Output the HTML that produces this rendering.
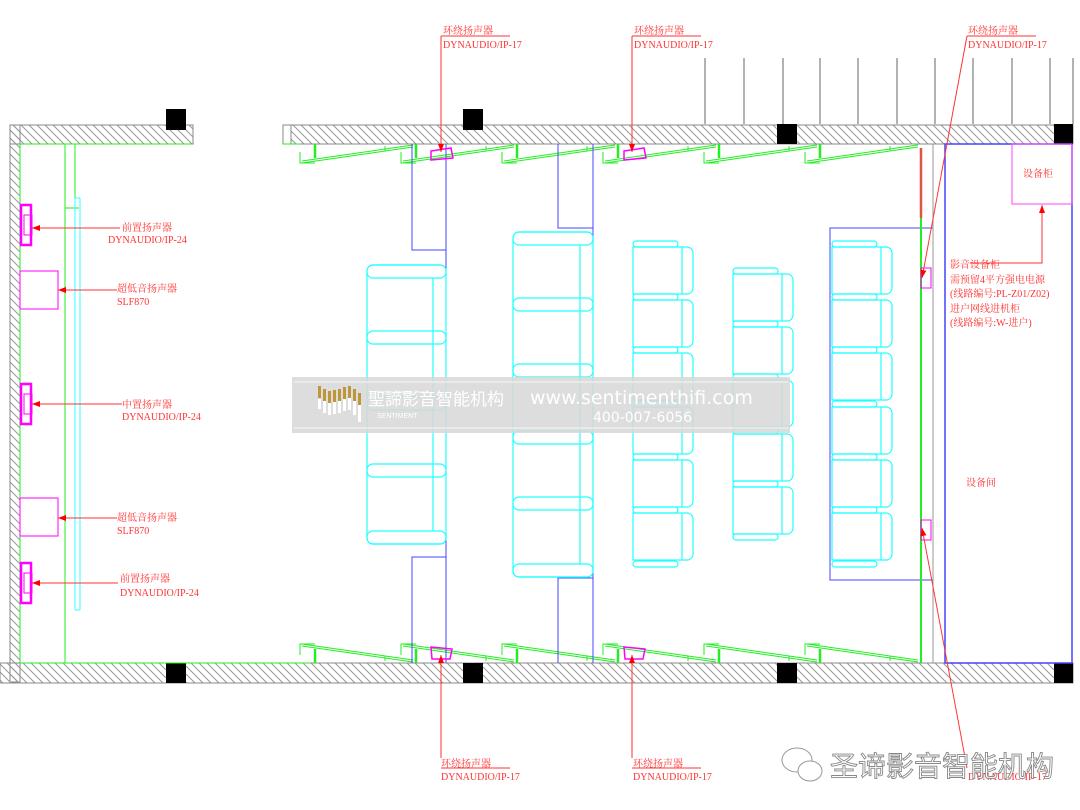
<!DOCTYPE html>
<html><head><meta charset="utf-8"><style>
html,body{margin:0;padding:0;background:#fff;}
svg{display:block}
.r{fill:#f33;font-family:"Liberation Serif","Noto Serif CJK SC",serif;font-size:10px}
</style></head><body>
<svg width="1080" height="810" viewBox="0 0 1080 810" xmlns="http://www.w3.org/2000/svg">
<defs>
<pattern id="h" patternUnits="userSpaceOnUse" width="8" height="8">
<path d="M-2,-2 L10,10 M-2,6 L2,10 M6,-2 L10,2" stroke="#999" stroke-width="1"/>
</pattern>
<marker id="a" markerWidth="8" markerHeight="6" refX="8" refY="3" orient="auto" markerUnits="userSpaceOnUse"><path d="M0,0 L8,3 L0,6z" fill="#f00"/></marker>
<g id="step" fill="none" stroke="#2e2" stroke-width="1">
<path d="M2,152 v11 h15"/><path d="M17,144 v14" stroke-width="2.5"/>
<path d="M4,161 L115,145 M4,163 L115,147"/><path d="M87,146 v5"/>
</g>
<g id="seat" fill="none" stroke="#2ff" stroke-width="1.2">
<rect x="0" y="0" width="45" height="6" rx="3"/>
<rect x="0" y="6" width="49" height="47"/>
<path d="M49,6 h5 a6,6 0 0 1 6,6 v35 a6,6 0 0 1 -6,6 h-5"/>
</g>
<g id="arm"><rect x="0" y="0" width="45" height="6" rx="3" fill="none" stroke="#2ff" stroke-width="1.2"/></g>
</defs>

<!-- grid lines above top right -->
<g stroke="#666" stroke-width="1">
<path d="M705,58 V124 M744,58 V124 M783,58 V124 M820,58 V124 M858,58 V124 M897,58 V124 M935,58 V124 M973,58 V124 M1012,58 V124 M1050,58 V124 M1073,58 V124"/>
</g>

<!-- walls -->
<rect x="10" y="125" width="183" height="19" fill="url(#h)" stroke="#888"/>
<rect x="10" y="125" width="10" height="557" fill="url(#h)" stroke="#888"/>
<rect x="283" y="125" width="790" height="19" fill="url(#h)" stroke="#888"/>
<rect x="283" y="125" width="8" height="19" fill="#fff" stroke="#888"/>
<rect x="0" y="663" width="1073" height="20" fill="url(#h)" stroke="#888"/>
<rect x="10" y="663" width="10" height="20" fill="url(#h)" stroke="none"/>
<g fill="#000">
<rect x="166" y="109" width="20" height="21"/><rect x="463" y="109" width="20" height="21"/>
<rect x="777" y="124" width="20" height="20"/><rect x="1054" y="124" width="19" height="20"/>
<rect x="166" y="663" width="20" height="20"/><rect x="463" y="663" width="20" height="20"/>
<rect x="777" y="663" width="20" height="20"/><rect x="1054" y="663" width="19" height="20"/>
</g>

<!-- left room green -->
<g fill="none" stroke="#2e2" stroke-width="1">
<path d="M20,144 H194 M20,663 H310 M20,144 V663"/>
<path d="M65,144 V663 M75,144 V208 M65,208 H79"/>
<path d="M283,144 H300"/>
</g>
<path d="M75,198 V610 M80,198 V610 M75,198 H80 M75,610 H80" stroke="#3ff" fill="none"/>

<!-- steps -->
<use href="#step" x="298"/><use href="#step" x="399"/><use href="#step" x="500"/>
<use href="#step" x="601"/><use href="#step" x="702"/><use href="#step" x="803"/>
<g transform="translate(0,807) scale(1,-1)">
<use href="#step" x="298"/><use href="#step" x="399"/><use href="#step" x="500"/>
<use href="#step" x="601"/><use href="#step" x="702"/><use href="#step" x="803"/>
</g>

<!-- blue partitions -->
<g fill="none" stroke="#44f" stroke-width="1">
<path d="M446,144 V663 M593,144 V663"/>
<path d="M446,250 H412 V144 M446,557 H412 V663"/>
<path d="M593,228 H558 V144 M593,578 H558 V663"/>
<rect x="830" y="228" width="103" height="352"/>
<rect x="945" y="144" width="127" height="519" stroke-width="1.5"/>
</g>
<path d="M933,144 V663" stroke="#999"/>
<path d="M921,148 V218" stroke="#d54" stroke-width="2.5"/>
<path d="M921,218 V663" stroke="#2e2" stroke-width="2"/>
<rect x="1012" y="144" width="60" height="60" fill="none" stroke="#f4f"/>

<!-- sofa row 1 -->
<g fill="none" stroke="#2ff" stroke-width="1.2">
<rect x="367" y="265" width="79" height="279" rx="6"/>
<rect x="367" y="265" width="79" height="13" rx="6"/><rect x="367" y="331" width="79" height="13" rx="6"/>
<rect x="367" y="397" width="79" height="13" rx="6"/><rect x="367" y="464" width="79" height="13" rx="6"/>
<rect x="367" y="531" width="79" height="13" rx="6"/>
<path d="M433,278 V531"/>
<rect x="513" y="232" width="80" height="345" rx="6"/>
<rect x="513" y="232" width="80" height="13" rx="6"/><rect x="513" y="298" width="80" height="13" rx="6"/>
<rect x="513" y="364" width="80" height="13" rx="6"/><rect x="513" y="431" width="80" height="13" rx="6"/>
<rect x="513" y="497" width="80" height="13" rx="6"/><rect x="513" y="564" width="80" height="13" rx="6"/>
<path d="M580,245 V564"/>
</g>
<!-- seats rows 3-5 -->
<g>
<use href="#seat" x="633" y="241"/><use href="#seat" x="633" y="294"/><use href="#seat" x="633" y="347"/>
<use href="#seat" x="633" y="401"/><use href="#seat" x="633" y="454"/><use href="#seat" x="633" y="507"/><use href="#arm" x="633" y="561"/>
<use href="#seat" x="733" y="268"/><use href="#seat" x="733" y="321"/><use href="#seat" x="733" y="374"/>
<use href="#seat" x="733" y="428"/><use href="#seat" x="733" y="481"/><use href="#arm" x="733" y="534"/>
<use href="#seat" x="832" y="241"/><use href="#seat" x="832" y="294"/><use href="#seat" x="832" y="347"/>
<use href="#seat" x="832" y="401"/><use href="#seat" x="832" y="454"/><use href="#seat" x="832" y="507"/><use href="#arm" x="832" y="561"/>
</g>

<!-- speakers -->
<g fill="none" stroke="#f0f">
<rect x="21" y="205" width="10" height="40" stroke-width="2.5"/><rect x="24" y="215" width="8" height="20"/>
<rect x="21" y="384" width="10" height="40" stroke-width="2.5"/><rect x="24" y="394" width="8" height="20"/>
<rect x="21" y="563" width="10" height="40" stroke-width="2.5"/><rect x="24" y="573" width="8" height="20"/>
<rect x="20" y="271" width="38" height="38"/><rect x="20" y="498" width="38" height="38"/>
<path d="M431,151 L451,148 L453,158 L431,160z" stroke-width="1.5"/>
<path d="M624,151 L644,148 L646,158 L624,160z" stroke-width="1.5"/>
<path d="M431,647 L452,649 L450,659 L432,659z" stroke-width="1.5"/>
<path d="M624,647 L645,649 L643,659 L625,659z" stroke-width="1.5"/>
<rect x="921" y="268" width="10" height="20"/><rect x="921" y="520" width="10" height="20"/>
</g>

<!-- red leaders -->
<g stroke="#f33" stroke-width="1" fill="none" marker-end="url(#a)">
<path d="M120,228 H32"/><path d="M117,290 H58"/><path d="M122,404 H32"/>
<path d="M117,518 H58"/><path d="M118,583 H32"/>
<path d="M441,36 V152"/><path d="M632,36 V152"/>
<path d="M967,36 L922,278"/>
<path d="M441,758 V655"/><path d="M632,758 V655"/>
<path d="M967,768 L922,528"/>
<path d="M970,263 H1042 V205"/>
</g>
<g stroke="#f33" fill="none">
<path d="M441,36 H510 M632,36 H701 M967,36 H1036 M441,768 H510 M632,768 H701"/>
</g>

<!-- red text -->
<text class="r" x="443" y="34">环绕扬声器</text><text class="r" x="443" y="48">DYNAUDIO/IP-17</text>
<text class="r" x="634" y="34">环绕扬声器</text><text class="r" x="634" y="48">DYNAUDIO/IP-17</text>
<text class="r" x="968" y="34">环绕扬声器</text><text class="r" x="968" y="48">DYNAUDIO/IP-17</text>
<text class="r" x="441" y="767">环绕扬声器</text><text class="r" x="441" y="780">DYNAUDIO/IP-17</text>
<text class="r" x="633" y="767">环绕扬声器</text><text class="r" x="633" y="780">DYNAUDIO/IP-17</text>
<text class="r" x="968" y="780">DYNAUDIO/IP-17</text>
<text class="r" x="122" y="231">前置扬声器</text><text class="r" x="108" y="243">DYNAUDIO/IP-24</text>
<text class="r" x="117" y="292">超低音扬声器</text><text class="r" x="117" y="305">SLF870</text>
<text class="r" x="122" y="408">中置扬声器</text><text class="r" x="122" y="420">DYNAUDIO/IP-24</text>
<text class="r" x="117" y="521">超低音扬声器</text><text class="r" x="117" y="534">SLF870</text>
<text class="r" x="120" y="582">前置扬声器</text><text class="r" x="120" y="596">DYNAUDIO/IP-24</text>
<text class="r" x="1023" y="177">设备柜</text>
<text class="r" x="950" y="268">影音设备柜</text>
<text class="r" x="950" y="283">需预留4平方强电电源</text>
<text class="r" x="950" y="297">(线路编号:PL-Z01/Z02)</text>
<text class="r" x="950" y="312">进户网线进机柜</text>
<text class="r" x="950" y="326">(线路编号:W-进户)</text>
<text class="r" x="966" y="486">设备间</text>

<!-- watermark -->
<rect x="292" y="377" width="498" height="56" fill="#d8d8d8" opacity="0.88"/>
<path d="M294,382 H788 M294,428 H788" stroke="#fff" stroke-width="0.8"/>
<g fill="#c0963a">
<rect x="318" y="386" width="3" height="12"/><rect x="323" y="389" width="3" height="12"/><rect x="328" y="391" width="3" height="12"/>
<rect x="333" y="390" width="3" height="12"/><rect x="338" y="389" width="3" height="12"/><rect x="343" y="387" width="3" height="12"/>
<rect x="348" y="386" width="3" height="12"/><rect x="353" y="389" width="3" height="12"/><rect x="358" y="393" width="3" height="12"/>
</g>
<g fill="#fff">
<rect x="318" y="399" width="3" height="10"/><rect x="323" y="401" width="3" height="12"/><rect x="328" y="403" width="3" height="12"/>
<rect x="333" y="402" width="3" height="12"/><rect x="338" y="401" width="3" height="12"/><rect x="343" y="399" width="3" height="12"/>
<rect x="348" y="398" width="3" height="12"/><rect x="353" y="401" width="3" height="14"/><rect x="358" y="405" width="3" height="17"/>
</g>
<text x="368" y="405" fill="#fff" font-family="'Liberation Sans','Noto Sans CJK SC',sans-serif" font-size="17">聖諦影音智能机构</text>
<text x="377" y="393" fill="#fff" font-family="'Liberation Sans',sans-serif" font-size="4">Premium Integration Solution</text>
<text x="377" y="418" fill="#fff" font-family="'Liberation Sans',sans-serif" font-size="7">SENTIMENT</text>
<text x="530" y="404" fill="#fff" font-family="'DejaVu Sans',sans-serif" font-size="19">www.sentimenthifi.com</text>
<text x="593" y="422" fill="#fff" font-family="'DejaVu Sans',sans-serif" font-size="14">400-007-6056</text>

<!-- wechat watermark -->
<g fill="#fff" stroke="#999" stroke-width="1">
<ellipse cx="797" cy="760" rx="15" ry="12"/>
<ellipse cx="810" cy="771" rx="12" ry="10"/>
</g>
<text x="830" y="776" fill="#fff" stroke="#888" stroke-width="0.9" font-family="'Liberation Sans','Noto Sans CJK SC',sans-serif" font-size="28">圣谛影音智能机构</text>
</svg>
</body></html>
